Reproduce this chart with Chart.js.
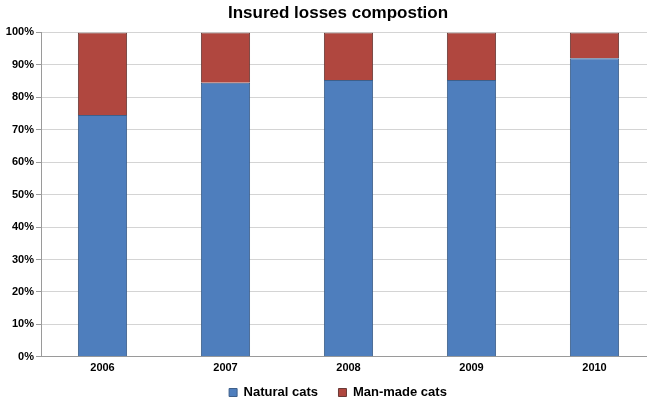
<!DOCTYPE html>
<html>
<head>
<meta charset="utf-8">
<script src="https://cdn.jsdelivr.net/npm/chart.js@4"></script>
<style>
  html, body { margin: 0; padding: 0; background: #fff; overflow: hidden; }
  #wrap { width: 676px; height: 403px; }
</style>
</head>
<body>
<div id="wrap"><canvas id="chart"></canvas></div>
<script>
const years = ['2006', '2007', '2008', '2009', '2010'];
const naturalCats = [74.5, 84.5, 85.3, 85.3, 92];
const manMadeCats = [25.5, 15.5, 14.7, 14.7, 8];

const font = "'Liberation Sans', Arial, sans-serif";

new Chart(document.getElementById('chart'), {
    type: 'bar',
    data: {
        labels: years,
        datasets: [{
            label: 'Natural cats',
            data: naturalCats,
            backgroundColor: '#4e7ebd',
            borderColor: '#3d5f8a',
            borderWidth: 1
        }, {
            label: 'Man-made cats',
            data: manMadeCats,
            backgroundColor: '#b0473f',
            borderColor: '#6a3a36',
            borderWidth: 1
        }]
    },
    options: {
        responsive: true,
        maintainAspectRatio: false,
        animation: false,
        datasets: { bar: { barPercentage: 0.8, categoryPercentage: 0.5 } },
        layout: { padding: { left: 0, right: 0, top: 0, bottom: -6 } },
        plugins: {
            title: {
                display: true,
                text: 'Insured losses compostion',
                color: '#000',
                font: { family: font, size: 17, weight: 'bold' },
                padding: { top: 3, bottom: 9 }
            },
            legend: {
                position: 'bottom',
                labels: {
                    color: '#000',
                    boxWidth: 8,
                    boxHeight: 8,
                    padding: 6,
                    font: { family: font, size: 13, weight: 'bold' },
                    // a bit more room between the two entries
                    generateLabels: chart => Chart.defaults.plugins.legend.labels.generateLabels(chart)
                        .map((item, i) => i === 0 ? { ...item, text: item.text + '    ' } : item)
                }
            },
            tooltip: { enabled: false }
        },
        scales: {
            x: {
                stacked: true,
                grid: { display: false, drawTicks: false },
                border: { color: '#9a9a9a' },
                ticks: { color: '#000', font: { family: font, size: 11, weight: 'bold' }, padding: 5 }
            },
            y: {
                stacked: true,
                min: 0,
                max: 100,
                afterFit: s => { s.width = 41; },
                ticks: {
                    stepSize: 10,
                    color: '#000',
                    padding: 2,
                    font: { family: font, size: 11, weight: 'bold' },
                    callback: v => v + '%'
                },
                grid: { color: '#d4d4d4', tickLength: 5, tickColor: '#9a9a9a' },
                border: { color: '#9a9a9a' }
            },
            // empty strip on the right, the plot runs past the picture edge
            yRight: {
                position: 'right',
                min: 0,
                max: 100,
                afterFit: s => { s.width = 20; },
                ticks: { display: false },
                grid: { drawOnChartArea: false, drawTicks: false },
                border: { display: false }
            }
        }
    }
});
</script>
</body>
</html>
